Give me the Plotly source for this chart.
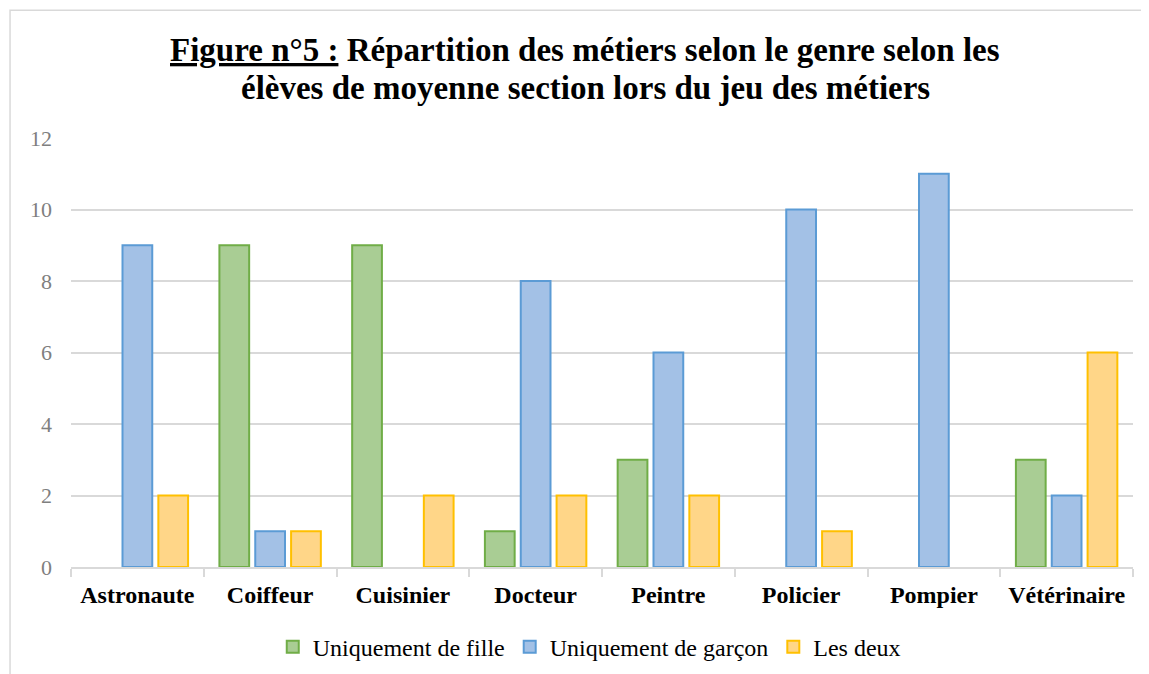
import plotly.graph_objects as go

categories = ["Astronaute", "Coiffeur", "Cuisinier", "Docteur", "Peintre", "Policier", "Pompier", "Vétérinaire"]
fille = [0, 9, 9, 1, 3, 0, 0, 3]
garcon = [9, 1, 0, 8, 6, 10, 11, 2]
deux = [2, 1, 2, 2, 2, 1, 0, 6]
series_names = ["Uniquement de fille", "Uniquement de garçon", "Les deux"]
y_ticks = [0, 2, 4, 6, 8, 10, 12]
title_line1 = "<b><u>Figure n°5 :</u> Répartition des métiers selon le genre selon les</b>"
title_line2 = "<b>élèves de moyenne section lors du jeu des métiers</b>"

fills = ["#a9cd94", "#a3c1e6", "#ffd688"]
borders = ["#70ad47", "#5b9bd5", "#ffc000"]
SERIF = "Liberation Serif, Times New Roman, serif"

def show(vals):
    return [v if v != 0 else None for v in vals]

fig = go.Figure()
for name, vals, fc, lc in zip(series_names, [fille, garcon, deux], fills, borders):
    fig.add_trace(go.Bar(
        x=categories, y=show(vals), name=name,
        marker=dict(color=fc, line=dict(color=lc, width=2)),
    ))

fig.update_layout(
    width=1141, height=666,
    paper_bgcolor="white", plot_bgcolor="white",
    margin=dict(l=63, r=16, t=130, b=107, autoexpand=False),
    barmode="group", bargap=0.19, bargroupgap=0.17,
    font=dict(family=SERIF, color="#000000"),
    legend=dict(
        orientation="h", xref="paper", x=0.488, xanchor="center",
        yref="container", y=0.0405, yanchor="middle",
        font=dict(size=24, family=SERIF, color="#000000"),
    ),
    showlegend=True,
)
for txt, yy in [(title_line1, 1.205), (title_line2, 1.1166)]:
    fig.add_annotation(text=txt, xref="paper", yref="paper", x=0.484, y=yy,
                       xanchor="center", yanchor="middle", showarrow=False,
                       font=dict(size=33, family=SERIF, color="#000000"))

fig.update_xaxes(
    type="category",
    showline=True, linecolor="#d9d9d9", linewidth=1.5,
    ticks="outside", tickson="boundaries", ticklen=8, tickcolor="#d9d9d9", tickwidth=1.5,
    ticklabelstandoff=5,
    tickfont=dict(size=24, family=SERIF, color="#000000", weight="bold"),
    showgrid=False,
)
fig.update_yaxes(
    range=[0, 12], tickvals=y_ticks,
    showgrid=True, gridcolor="#d9d9d9", gridwidth=1.5,
    showline=False, zeroline=False, ticks="",
    ticklabelstandoff=18,
    tickfont=dict(size=22, family=SERIF, color="#7f7f7f"),
)
fig.add_shape(type="rect", xref="paper", yref="paper",
              x0=-0.0574, x1=1.05, y0=-0.3, y1=1.298,
              line=dict(color="#d9d9d9", width=1.5), fillcolor="rgba(0,0,0,0)", layer="below")

fig.write_html("out.html")
